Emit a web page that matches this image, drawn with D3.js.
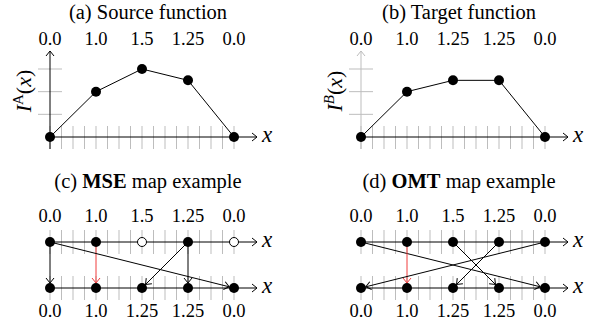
<!DOCTYPE html>
<html>
<head>
<meta charset="utf-8">
<script src="https://cdn.jsdelivr.net/npm/d3@7"></script>
<style>
  body { margin: 0; background: #fff; }
</style>
</head>
<body>
<div id="container"></div>
<script>
// values
const sourceVals = [0.0, 1.0, 1.5, 1.25, 0.0];
const targetVals = [0.0, 1.0, 1.25, 1.25, 0.0];
const sourceLabels = ["0.0", "1.0", "1.5", "1.25", "0.0"];
const targetLabels = ["0.0", "1.0", "1.25", "1.25", "0.0"];
// [from top index, to bottom index]
const mseMap = [[0, 0], [1, 1], [0, 4], [3, 2], [3, 3]];
const mseFilled = [true, true, false, true, false];
const omtMap = [[0, 4], [1, 1], [2, 3], [3, 2], [4, 0]];
const yGrid = [0.5, 1.0, 1.5];
const xGrid = d3.range(0, 4.01, 0.25);

const width = 591, height = 323;
const serif = "'Times New Roman'";
const svg = d3.select("#container").append("svg")
    .attr("width", width)
    .attr("height", height);

const gray = "#bdbdbd";
const red = "#f03c3c";
const dotR = 5;

// LaTeX "to" style arrow head, tip at (x, y), pointing along angle a
function arrowHead(g, x, y, a, color) {
    g.append("path")
        .attr("d", "M-5,-4 Q-1.5,-1.2 0,0 Q-1.5,1.2 -5,4")
        .attr("transform", `translate(${x},${y}) rotate(${a * 180 / Math.PI})`)
        .attr("fill", "none")
        .attr("stroke", color)
        .attr("stroke-width", 1);
}

function arrow(g, x1, y1, x2, y2, color, shorten) {
    const a = Math.atan2(y2 - y1, x2 - x1);
    const tx = x2 - Math.cos(a) * shorten, ty = y2 - Math.sin(a) * shorten;
    g.append("line")
        .attr("x1", x1).attr("y1", y1)
        .attr("x2", tx).attr("y2", ty)
        .attr("stroke", color).attr("stroke-width", 1);
    arrowHead(g, tx, ty, a, color);
}

function title(g, cx, y, prefix, bold, rest) {
    const t = g.append("text")
        .attr("x", cx).attr("y", y)
        .attr("text-anchor", "middle")
        .attr("font-family", serif)
        .attr("font-size", 20.5);
    t.append("tspan").attr("font-family", serif).text(prefix);
    if (bold) t.append("tspan").attr("font-family", serif).attr("font-weight", "bold").text(bold);
    if (rest) t.append("tspan").attr("font-family", serif).text(rest);
}

function xLabel(g, x, y) {
    g.append("text")
        .attr("x", x).attr("y", y + 5)
        .attr("font-family", serif)
        .attr("font-size", 23)
        .attr("font-style", "italic")
        .text("x");
}

function tickLabels(g, x, labels, y) {
    g.selectAll(null).data(labels).join("text")
        .attr("x", (d, i) => x(i))
        .attr("y", y)
        .attr("text-anchor", "middle")
        .attr("font-family", serif)
        .attr("font-size", 18.5)
        .text(d => d);
}

function xGridLines(g, x, y, up, down) {
    g.selectAll(null).data(xGrid).join("line")
        .attr("x1", d => x(d)).attr("x2", d => x(d))
        .attr("y1", y - up).attr("y2", y + down)
        .attr("stroke", gray).attr("stroke-width", 1);
}

// ---------- top panels: functions ----------
function funcPanel(ox, vals, labels, name, sup, supItalic, axisColor) {
    const g = svg.append("g");
    const x = d3.scaleLinear().domain([0, 4]).range([ox, ox + 184]);
    const y = d3.scaleLinear().domain([0, 1.5]).range([137, 69]);

    title(g, ox + 98, 19, name, null, "");
    tickLabels(g, x, labels, 45);

    xGridLines(g, x, y(0), 11, 12);
    g.selectAll(null).data(yGrid).join("line")
        .attr("x1", x(0) - 12).attr("x2", x(0) + 12)
        .attr("y1", d => y(d)).attr("y2", d => y(d))
        .attr("stroke", gray).attr("stroke-width", 1);

    // y axis
    g.append("line")
        .attr("x1", x(0)).attr("x2", x(0))
        .attr("y1", y(0) + 12).attr("y2", 51)
        .attr("stroke", axisColor).attr("stroke-width", 1);
    arrowHead(g, x(0), 51, -Math.PI / 2, axisColor);

    // x axis
    g.append("line")
        .attr("x1", x(0)).attr("x2", x(4) + 23)
        .attr("y1", y(0)).attr("y2", y(0))
        .attr("stroke", "#000").attr("stroke-width", 1);
    arrowHead(g, x(4) + 23, y(0), 0, "#000");
    xLabel(g, x(4) + 28, y(0));

    // y label
    const lbl = g.append("text")
        .attr("transform", `translate(${ox - 19},${91}) rotate(-90)`)
        .attr("text-anchor", "middle")
        .attr("font-family", serif)
        .attr("font-size", 22);
    lbl.append("tspan").attr("font-family", serif).attr("font-style", "italic").text("I");
    lbl.append("tspan").attr("font-family", serif).attr("font-size", 15).attr("dy", -8)
        .attr("font-style", supItalic ? "italic" : "normal").text(sup);
    lbl.append("tspan").attr("font-family", serif).attr("dy", 8).text("(");
    lbl.append("tspan").attr("font-family", serif).attr("font-style", "italic").text("x");
    lbl.append("tspan").attr("font-family", serif).text(")");

    const line = d3.line().x((d, i) => x(i)).y(d => y(d));
    g.append("path")
        .attr("d", line(vals))
        .attr("fill", "none")
        .attr("stroke", "#000").attr("stroke-width", 1);

    g.selectAll(null).data(vals).join("circle")
        .attr("cx", (d, i) => x(i)).attr("cy", d => y(d))
        .attr("r", dotR).attr("fill", "#000");
}

funcPanel(50, sourceVals, sourceLabels, "(a) Source function", "A", false, "#000");
funcPanel(361, targetVals, targetLabels, "(b) Target function", "B", true, gray);

// ---------- bottom panels: maps ----------
function mapPanel(ox, bold, rest, prefix, map, filled) {
    const g = svg.append("g");
    const x = d3.scaleLinear().domain([0, 4]).range([ox, ox + 184]);
    const yTop = 242, yBot = 288;

    title(g, ox + 98, 188, prefix, bold, rest);
    tickLabels(g, x, sourceLabels, 222);
    tickLabels(g, x, targetLabels, 317);

    [yTop, yBot].forEach(yy => {
        xGridLines(g, x, yy, 12, 12);
        g.append("line")
            .attr("x1", x(0)).attr("x2", x(4) + 23)
            .attr("y1", yy).attr("y2", yy)
            .attr("stroke", "#000").attr("stroke-width", 1);
        arrowHead(g, x(4) + 23, yy, 0, "#000");
        xLabel(g, x(4) + 28, yy);
    });

    map.forEach(([a, b]) => {
        const col = (a === 1 && b === 1) ? red : "#000";
        arrow(g, x(a), yTop, x(b), yBot, col, dotR);
    });

    g.selectAll(null).data(sourceLabels).join("circle")
        .attr("cx", (d, i) => x(i)).attr("cy", yTop)
        .attr("r", (d, i) => filled[i] ? dotR : 4.5)
        .attr("fill", (d, i) => filled[i] ? "#000" : "#fff")
        .attr("stroke", "#000").attr("stroke-width", (d, i) => filled[i] ? 0 : 1);

    g.selectAll(null).data(targetLabels).join("circle")
        .attr("cx", (d, i) => x(i)).attr("cy", yBot)
        .attr("r", dotR).attr("fill", "#000");
}

mapPanel(50, "MSE", " map example", "(c) ", mseMap, mseFilled);
mapPanel(361, "OMT", " map example", "(d) ", omtMap, [true, true, true, true, true]);
</script>
</body>
</html>
